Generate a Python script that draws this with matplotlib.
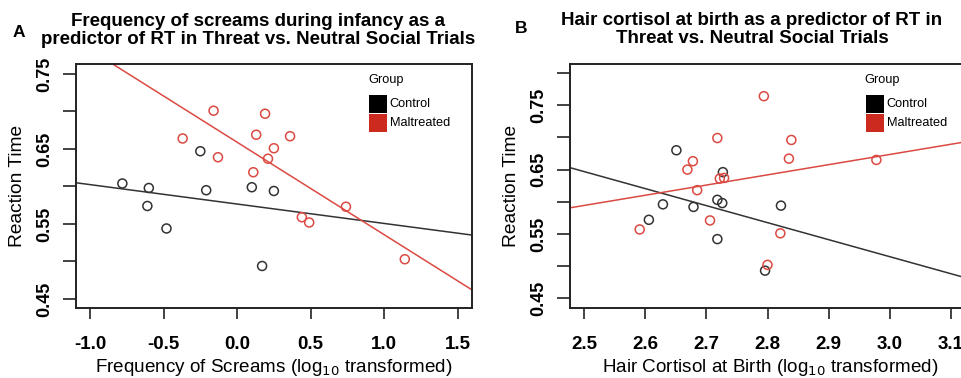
import matplotlib.pyplot as plt
from matplotlib.patches import Rectangle
import numpy as np

plt.rcParams['font.family'] = ['Liberation Sans', 'DejaVu Sans']

# Panel A: frequency of screams (log10) vs reaction time
a_ctrl_x = [-0.78, -0.60, -0.61, -0.48, -0.25, -0.21, 0.10, 0.25, 0.17]
a_ctrl_y = [0.604, 0.598, 0.574, 0.544, 0.647, 0.595, 0.599, 0.594, 0.494]
a_mal_x = [-0.16, 0.19, -0.37, 0.13, 0.36, 0.25, -0.13, 0.21, 0.11, 0.74, 0.44, 0.49, 1.14]
a_mal_y = [0.701, 0.697, 0.664, 0.669, 0.667, 0.651, 0.639, 0.637, 0.619, 0.573, 0.559, 0.552, 0.503]
a_ctrl_fit = (0.5766, -0.0259)   # intercept, slope
a_mal_fit = (0.6590, -0.1233)

# Panel B: hair cortisol at birth (log10) vs reaction time
b_ctrl_x = [2.651, 2.727, 2.629, 2.679, 2.718, 2.726, 2.822, 2.606, 2.718, 2.796]
b_ctrl_y = [0.680, 0.646, 0.596, 0.592, 0.603, 0.598, 0.594, 0.572, 0.542, 0.493]
b_mal_x = [2.794, 2.718, 2.839, 2.678, 2.669, 2.835, 2.978, 2.722, 2.729, 2.685,
           2.706, 2.591, 2.821, 2.800]
b_mal_y = [0.764, 0.699, 0.696, 0.663, 0.650, 0.667, 0.665, 0.636, 0.637, 0.618,
           0.571, 0.557, 0.551, 0.502]
b_ctrl_fit = (0.653 + 2.477 * 0.2645, -0.2645)
b_mal_fit = (0.5906 - 2.477 * 0.1585, 0.1585)

groups = ['Control', 'Maltreated']
y_ticks_a = [0.45, 0.50, 0.55, 0.60, 0.65, 0.70, 0.75]
y_ticks_b = [0.45, 0.50, 0.55, 0.60, 0.65, 0.70, 0.75, 0.80]
y_labels_a = ['0.45', '', '0.55', '', '0.65', '', '0.75']
y_labels_b = ['0.45', '', '0.55', '', '0.65', '', '0.75', '']
x_ticks_a = [-1.0, -0.5, 0.0, 0.5, 1.0, 1.5]
x_ticks_b = [2.5, 2.6, 2.7, 2.8, 2.9, 3.0, 3.1]

RED = '#DB4A42'
RED_LEG = '#CC2A1F'
DARK = '#333333'

fig = plt.figure(figsize=(9.61, 3.78), dpi=100)
ax_a = fig.add_axes([0.0791, 0.1852, 0.4121, 0.6455])
ax_b = fig.add_axes([0.5931, 0.1852, 0.4162, 0.6455])


def draw_panel(ax, cx, cy, mx, my, cfit, mfit, xlim, ylim, xt, yt, yl, xlabel):
    ax.set_xlim(xlim)
    ax.set_ylim(ylim)
    xs = np.array(xlim)
    ax.plot(xs, cfit[0] + cfit[1] * xs, color=DARK, lw=1.1, zorder=2)
    ax.plot(xs, mfit[0] + mfit[1] * xs, color=RED, lw=1.1, zorder=2)
    ax.scatter(cx, cy, s=42, facecolors='none', edgecolors=DARK, linewidths=1.1, zorder=3)
    ax.scatter(mx, my, s=42, facecolors='none', edgecolors=RED, linewidths=1.1, zorder=3)
    ax.set_xticks(xt)
    ax.set_xticklabels([f'{v:.1f}' for v in xt], fontsize=13.5, fontweight='bold')
    ax.set_yticks(yt)
    ax.set_yticklabels(yl, fontsize=13, fontweight='bold', rotation=90, va='center')
    ax.tick_params(axis='x', length=8, width=1.2, pad=12, color='#222222')
    ax.tick_params(axis='y', length=9.5, width=1.2, pad=7, color='#222222')
    for s in ax.spines.values():
        s.set_linewidth(1.4)
        s.set_color('#222222')
    ax.set_xlabel(xlabel, fontsize=13.6, labelpad=3)
    ax.set_ylabel('Reaction Time', fontsize=13.8, labelpad=7)

    # legend drawn like the R figure: title plus filled squares
    trans = ax.transAxes
    ax.text(0.737, 0.935, 'Group', transform=trans, fontsize=9.2, va='center', ha='left')
    for i, (g, c) in enumerate(zip(groups, ['black', RED_LEG])):
        y0 = 0.80 - i * 0.078
        ax.add_patch(Rectangle((0.740, y0), 0.045, 0.074, transform=trans,
                               facecolor=c, edgecolor='none', clip_on=False, zorder=4))
        ax.text(0.792, y0 + 0.037, g, transform=trans, fontsize=9.2, va='center', ha='left')


draw_panel(ax_a, a_ctrl_x, a_ctrl_y, a_mal_x, a_mal_y, a_ctrl_fit, a_mal_fit,
           (-1.095, 1.597), (0.438, 0.7633), x_ticks_a, y_ticks_a, y_labels_a,
           'Frequency of Screams (log$_{10}$ transformed)')
draw_panel(ax_b, b_ctrl_x, b_ctrl_y, b_mal_x, b_mal_y, b_ctrl_fit, b_mal_fit,
           (2.477, 3.131), (0.435, 0.814), x_ticks_b, y_ticks_b, y_labels_b,
           'Hair Cortisol at Birth (log$_{10}$ transformed)')

fig.text(258 / 961, 1 - 13 / 378,
         'Frequency of screams during infancy as a\npredictor of RT in Threat vs. Neutral Social Trials',
         ha='center', va='top', fontsize=13.5, fontweight='bold', linespacing=1.05)
fig.text(752 / 961, 1 - 12 / 378,
         'Hair cortisol at birth as a predictor of RT in\nThreat vs. Neutral Social Trials',
         ha='center', va='top', fontsize=13.5, fontweight='bold', linespacing=1.05)
fig.text(13 / 961, 1 - 37 / 378, 'A', fontsize=12.5, fontweight='bold')
fig.text(515 / 961, 1 - 33 / 378, 'B', fontsize=12.5, fontweight='bold')

fig.savefig('out.png', dpi=100)
